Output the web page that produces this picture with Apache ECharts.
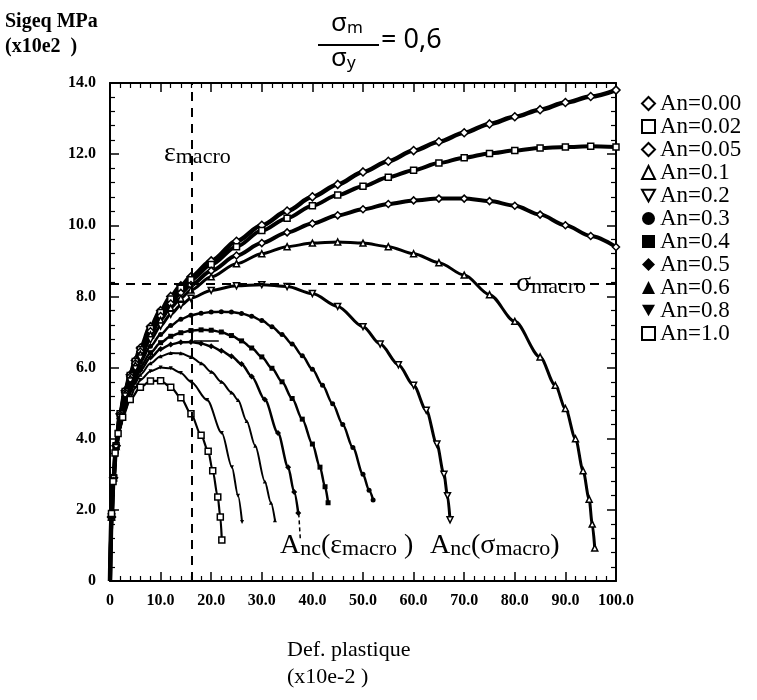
<!DOCTYPE html>
<html>
<head>
	<meta charset="utf-8" />
	<script src="https://cdn.jsdelivr.net/npm/echarts@6/dist/echarts.min.js"></script>
	<style>body{margin:0;background:#fff;}</style>
</head>
<body>
	<div id="main" style="width:757px;height:700px;"></div>

	<script type="text/javascript">
		// courbes : [def. plastique (x10e-2), Sigeq (x10e2 MPa)]
		var an000 = [[0,0],[0.3,1.8],[0.7,2.9],[1.2,3.8],[2,4.7],[3,5.35],[4,5.8],[5,6.2],[6,6.55],[8,7.15],[10,7.6],[12,8.0],[14,8.3],[16,8.55],[20,9.0],[25,9.55],[30,10.0],[35,10.4],[40,10.8],[45,11.15],[50,11.5],[55,11.8],[60,12.1],[65,12.35],[70,12.6],[75,12.85],[80,13.05],[85,13.25],[90,13.45],[95,13.62],[100,13.8]];
		var an002 = [[0,0],[0.3,1.8],[0.7,2.9],[1.2,3.8],[2,4.7],[3,5.33],[4,5.78],[5,6.17],[6,6.5],[8,7.1],[10,7.55],[12,7.93],[14,8.23],[16,8.47],[20,8.9],[25,9.4],[30,9.85],[35,10.2],[40,10.55],[45,10.85],[50,11.1],[55,11.35],[60,11.55],[65,11.75],[70,11.9],[75,12.02],[80,12.1],[85,12.17],[90,12.2],[95,12.22],[100,12.2]];
		var an005 = [[0,0],[0.3,1.8],[0.7,2.9],[1.2,3.8],[2,4.68],[3,5.3],[4,5.75],[5,6.12],[6,6.45],[8,7.02],[10,7.45],[12,7.8],[14,8.1],[16,8.32],[20,8.72],[25,9.15],[30,9.5],[35,9.8],[40,10.05],[45,10.28],[50,10.45],[55,10.6],[60,10.7],[65,10.75],[70,10.75],[75,10.68],[80,10.55],[85,10.3],[90,10.0],[95,9.7],[100,9.39]];
		var an01 = [[0,0],[0.3,1.8],[0.7,2.9],[1.2,3.78],[2,4.65],[3,5.27],[4,5.7],[5,6.07],[6,6.38],[8,6.92],[10,7.33],[12,7.68],[14,7.95],[16,8.18],[20,8.55],[25,8.92],[30,9.2],[35,9.4],[40,9.5],[45,9.53],[50,9.5],[55,9.4],[60,9.2],[65,8.95],[70,8.6],[75,8.05],[80,7.3],[85,6.3],[88,5.5],[90,4.85],[92,4.0],[93.5,3.1],[94.7,2.3],[95.3,1.6],[95.8,0.93]];
		var an02 = [[0,0],[0.3,1.8],[0.7,2.88],[1.2,3.75],[2,4.6],[3,5.2],[4,5.62],[5,5.97],[6,6.27],[8,6.78],[10,7.17],[12,7.5],[14,7.75],[16,7.95],[20,8.17],[25,8.3],[30,8.33],[35,8.28],[40,8.08],[45,7.72],[50,7.15],[53.4,6.66],[57,6.08],[60,5.5],[62.5,4.8],[64.6,3.85],[66,3.0],[66.7,2.4],[67.2,1.72]];
		var an03 = [[0,0],[0.3,1.8],[0.7,2.85],[1.2,3.7],[2,4.55],[3,5.13],[4,5.55],[5,5.88],[6,6.15],[8,6.6],[10,6.93],[12,7.18],[14,7.36],[16,7.47],[18,7.53],[20,7.56],[22,7.57],[24,7.56],[26,7.52],[28,7.44],[30,7.32],[32,7.15],[34,6.93],[36,6.66],[38,6.33],[40,5.95],[42,5.5],[44,4.98],[46,4.4],[48,3.75],[50,3.0],[51.2,2.55],[52,2.28]];
		var an04 = [[0,0],[0.3,1.8],[0.7,2.82],[1.2,3.65],[2,4.48],[3,5.05],[4,5.45],[5,5.76],[6,6.02],[8,6.42],[10,6.7],[12,6.88],[14,6.98],[16,7.04],[18,7.06],[20,7.05],[22,7.0],[24,6.9],[26,6.75],[28,6.55],[30,6.3],[32,5.98],[34,5.6],[36,5.13],[38,4.55],[40,3.85],[41.5,3.2],[42.5,2.65],[43.1,2.2]];
		var an05 = [[0,0],[0.3,1.8],[0.7,2.8],[1.2,3.6],[2,4.42],[3,4.98],[4,5.37],[5,5.67],[6,5.92],[8,6.28],[10,6.52],[12,6.65],[14,6.71],[16,6.72],[18,6.68],[20,6.6],[22,6.47],[24,6.32],[26,6.1],[28,5.75],[30.6,5.1],[33.2,4.16],[35.2,3.2],[36.4,2.5],[37.2,1.91]];
		var an06 = [[0,0],[0.3,1.8],[0.7,2.78],[1.2,3.55],[2,4.35],[3,4.9],[4,5.28],[5,5.57],[6,5.8],[8,6.12],[10,6.32],[12,6.41],[14,6.4],[16,6.3],[18,6.12],[20,5.88],[22,5.6],[24,5.3],[25.3,5.09],[27,4.5],[28.7,3.8],[30.6,2.8],[31.8,2.2],[32.6,1.71]];
		var an08 = [[0,0],[0.3,1.8],[0.7,2.75],[1.2,3.5],[2,4.27],[3,4.8],[4,5.16],[5,5.43],[6,5.65],[8,5.9],[10,6.0],[12,5.98],[14,5.85],[16,5.6],[19.2,5.09],[22.1,4.16],[24.1,3.2],[25.3,2.4],[26.1,1.66]];
		var an10 = [[0,0],[0.3,1.9],[0.6,2.8],[1.0,3.6],[1.6,4.15],[2.5,4.6],[4,5.1],[6,5.45],[8,5.62],[10,5.63],[12,5.45],[14,5.15],[16,4.7],[18,4.1],[19.4,3.65],[20.3,3.1],[21.3,2.36],[21.8,1.8],[22.1,1.15]];

		var noms = ['An=0.00', 'An=0.02', 'An=0.05', 'An=0.1', 'An=0.2', 'An=0.3', 'An=0.4', 'An=0.5', 'An=0.6', 'An=0.8', 'An=1.0'];
		var courbes = [an000, an002, an005, an01, an02, an03, an04, an05, an06, an08, an10];

		var epsMacro = 16.2;   // trait vertical
		var sigMacro = 8.35;   // trait horizontal

		var triBas = 'path://M0,0L10,0L5,9Z';
		// symbole, creux ?, taille, epaisseur du trait
		var styles = [
			['diamond', true, 8, 4.5],
			['rect', true, 6, 4],
			['diamond', true, 7, 4],
			['triangle', true, 6, 3],
			[triBas, true, 6, 3],
			['circle', false, 5, 2.5],
			['rect', false, 5, 2.5],
			['diamond', false, 6, 2.5],
			['triangle', false, 4, 2],
			[triBas, false, 4, 2],
			['rect', true, 6, 2.2]
		];

		var serif = '"Liberation Serif", "DejaVu Serif", serif';

		var series = courbes.map(function (d, i) {
			var s = styles[i];
			return {
				name: noms[i],
				type: 'line',
				// pas de symbole a l'origine
				data: d.map(function (p, j) { return j === 0 ? { value: p, symbol: 'none' } : p; }),
				smooth: 0.3,
				smoothMonotone: 'x',
				symbol: s[0],
				symbolSize: s[2],
				itemStyle: s[1] ? { color: '#fff', borderColor: '#000', borderWidth: 1.5 } : { color: '#000', borderColor: '#000', borderWidth: 0 },
				lineStyle: { color: '#000', width: s[3] },
				z: 3,
				silent: true
			};
		});

		// traits pointilles epsilon / sigma macro
		series.push({
			type: 'line',
			data: [],
			silent: true,
			markLine: {
				silent: true,
				symbol: 'none',
				label: { show: false },
				lineStyle: { color: '#000', width: 2, type: [9, 7] },
				data: [
					[{ coord: [epsMacro, 0] }, { coord: [epsMacro, 14] }],
					[{ coord: [0, sigMacro] }, { coord: [100, sigMacro] }]
				]
			}
		});
		// petits reperes sur la courbe An=0.5
		series.push({
			type: 'line',
			data: [],
			silent: true,
			markLine: {
				silent: true,
				symbol: 'none',
				label: { show: false },
				lineStyle: { color: '#000', width: 1.5, type: 'solid' },
				data: [
					[{ coord: [16.5, 6.75] }, { coord: [21.5, 6.75] }],
					[{ coord: [37.3, 1.9] }, { coord: [37.6, 1.2], lineStyle: { type: [4, 3] } }]
				]
			}
		});

		function etiquette(v) { return v === 0 ? '0' : v.toFixed(1); }

		function axeX(pos, lab) {
			return {
				type: 'value', min: 0, max: 100, interval: 10, position: pos,
				axisLine: { show: true, onZero: false, lineStyle: { color: '#000', width: 2 } },
				axisTick: { show: true, inside: true, length: 9, lineStyle: { color: '#000', width: 1.5 } },
				minorTick: { show: true, splitNumber: 5, length: 5, lineStyle: { color: '#000', width: 1.2 } },
				splitLine: { show: false },
				axisLabel: { show: lab, color: '#000', fontFamily: serif, fontWeight: 'bold', fontSize: 16, margin: 12, formatter: etiquette }
			};
		}
		function axeY(pos, lab) {
			return {
				type: 'value', min: 0, max: 14, interval: 2, position: pos,
				axisLine: { show: true, onZero: false, lineStyle: { color: '#000', width: 2 } },
				axisTick: { show: true, inside: true, length: 9, lineStyle: { color: '#000', width: 1.5 } },
				minorTick: { show: true, splitNumber: 5, length: 5, lineStyle: { color: '#000', width: 1.2 } },
				splitLine: { show: false },
				axisLabel: { show: lab, color: '#000', fontFamily: serif, fontWeight: 'bold', fontSize: 16, margin: 14, formatter: etiquette }
			};
		}

		var sub = {
			b: { fontFamily: serif, fontSize: 28, lineHeight: 30, verticalAlign: 'bottom', color: '#000' },
			s: { fontFamily: serif, fontSize: 22, lineHeight: 16, verticalAlign: 'bottom', color: '#000' }
		};
		var subTitre = {
			b: { fontFamily: '"Noto Sans", sans-serif', fontSize: 26, lineHeight: 28, verticalAlign: 'bottom', color: '#000' },
			s: { fontFamily: '"Noto Sans", sans-serif', fontSize: 17, lineHeight: 14, verticalAlign: 'bottom', color: '#000' }
		};

		var myChart = echarts.init(document.getElementById('main'));
		var option = {
			backgroundColor: '#fff',
			animation: false,
			grid: { left: 110, right: 141, top: 83, bottom: 119 },
			xAxis: [axeX('bottom', true), axeX('top', false)],
			yAxis: [axeY('left', true), axeY('right', false)],
			legend: {
				orient: 'vertical',
				left: 636,
				top: 87,
				itemWidth: 13,
				itemHeight: 13,
				itemGap: 0,
				textStyle: { color: '#000', fontFamily: serif, fontSize: 23 },
				data: noms.map(function (n, i) { return { name: n, icon: styles[i][0] }; })
			},
			graphic: [
				{ type: 'text', left: 5, top: 9, style: { text: 'Sigeq MPa\n(x10e2  )', font: 'bold 20px ' + serif, lineHeight: 25, fill: '#000' } },
				{ type: 'text', left: 287, top: 637, style: { text: 'Def. plastique\n(x10e-2 )', font: '22px ' + serif, lineHeight: 27, fill: '#000' } },
				{ type: 'text', left: 331, top: 11, style: { text: '{b|σ}{s|m}', rich: subTitre } },
				{ type: 'line', shape: { x1: 318, y1: 45, x2: 379, y2: 45 }, style: { stroke: '#000', lineWidth: 2 } },
				{ type: 'text', left: 331, top: 46, style: { text: '{b|σ}{s|y}', rich: subTitre } },
				{ type: 'text', left: 381, top: 27, style: { text: '= 0,6', font: '27px "Noto Sans", sans-serif', fill: '#000' } },
				{ type: 'text', left: 164, top: 140, style: { text: '{b|ε}{s|macro}', rich: sub } },
				{ type: 'text', left: 512, top: 268, style: { text: '{b|σ}{s|macro}', rich: sub, backgroundColor: '#fff', padding: [0, 3, 0, 4] } },
				{ type: 'text', left: 280, top: 532, style: { text: '{b|A}{s|nc}{b|(ε}{s|macro}{b| )}', rich: sub } },
				{ type: 'text', left: 430, top: 532, style: { text: '{b|A}{s|nc}{b|(σ}{s|macro}{b|)}', rich: sub } }
			],
			series: series
		};
		myChart.setOption(option);
	</script>
</body>
</html>
